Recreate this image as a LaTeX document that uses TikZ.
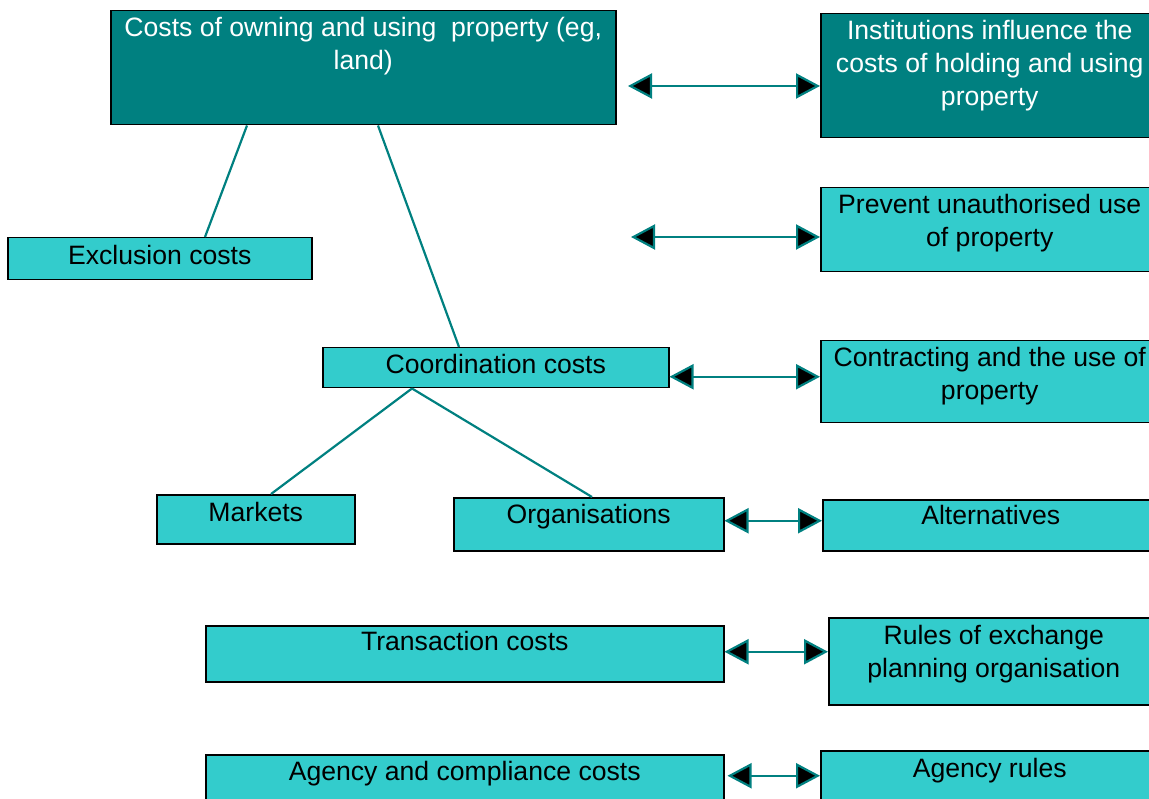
\documentclass[tikz,border=0pt]{standalone}
\usepackage{fontspec}
\setmainfont{Liberation Sans}
\usetikzlibrary{arrows.meta,calc}
\definecolor{darkteal}{HTML}{008080}
\definecolor{lightteal}{HTML}{33CCCC}
\begin{document}
\begin{tikzpicture}[x=1pt,y=-1pt,
 box/.style={draw=black, line width=1.5pt, rectangle, inner sep=0pt, anchor=north west},
 dark/.style={box, fill=darkteal},
 light/.style={box, fill=lightteal},
 txt/.style={anchor=north, inner sep=0pt, align=center, font=\fontsize{26.6}{33}\selectfont},
 wtxt/.style={txt, text=white},
 link/.style={draw=darkteal, line width=2.2pt},
 dbl/.style={draw=darkteal, line width=2.2pt, {Triangle[length=24pt,width=25pt,fill=black]}-{Triangle[length=24pt,width=25pt,fill=black]}}
]
\useasboundingbox (0,0) rectangle (1149,799);
\clip (0,0) rectangle (1149,799);

% boxes
\node[dark,  minimum width=505pt, minimum height=114pt] (top)   at (110,10)  {};
\node[dark,  minimum width=338pt, minimum height=124pt] (inst)  at (820,13)  {};
\node[light, minimum width=338pt, minimum height=84pt]  (prev)  at (820,187) {};
\node[light, minimum width=304pt, minimum height=42pt]  (excl)  at (7,237)   {};
\node[light, minimum width=346pt, minimum height=40pt]  (coord) at (322,347) {};
\node[light, minimum width=338pt, minimum height=82pt]  (contr) at (820,340) {};
\node[light, minimum width=198pt, minimum height=49pt]  (mark)  at (156,494) {};
\node[light, minimum width=270pt, minimum height=53pt]  (org)   at (453,497) {};
\node[light, minimum width=336pt, minimum height=51pt]  (alt)   at (822,499) {};
\node[light, minimum width=518pt, minimum height=56pt]  (trans) at (205,625) {};
\node[light, minimum width=330pt, minimum height=87pt]  (rules) at (828,617) {};
\node[light, minimum width=518pt, minimum height=60pt]  (agen)  at (205,754) {};
\node[light, minimum width=338pt, minimum height=60pt]  (arul)  at (820,750) {};

% texts
\node[wtxt] (topT)   at ([yshift=-7.5pt]top.north)   {Costs of owning and using~ property (eg,\\land)};
\node[wtxt] (instT)  at ([yshift=-7.5pt]inst.north)  {Institutions influence the\\costs of holding and using\\property};
\node[txt]  (prevT)  at ([yshift=-7.5pt]prev.north)  {Prevent unauthorised use\\of property};
\node[txt]  (exclT)  at ([yshift=-8pt]excl.north)    {Exclusion costs};
\node[txt]  (coordT) at ([yshift=-7.5pt]coord.north) {Coordination costs};
\node[txt]  (contrT) at ([yshift=-7.5pt]contr.north) {Contracting and the use of\\property};
\node[txt]  (markT)  at ([yshift=-8pt]mark.north)    {Markets};
\node[txt]  (orgT)   at ([yshift=-7.5pt]org.north)   {Organisations};
\node[txt]  (altT)   at ([yshift=-6.5pt]alt.north)   {Alternatives};
\node[txt]  (transT) at ([yshift=-6.5pt]trans.north) {Transaction costs};
\node[txt]  (rulesT) at ([yshift=-8pt]rules.north)   {Rules of exchange\\planning organisation};
\node[txt]  (agenT)  at ([yshift=-7.5pt]agen.north)  {Agency and compliance costs};
\node[txt]  (arulT)  at ([yshift=-8pt]arul.north)    {Agency rules};

% tree links
\draw[link] ($(top.south west)+(137,0)$) -- ($(excl.north west)+(198,0)$);
\draw[link] ($(top.south west)+(268,0)$) -- ($(coord.north west)+(137,0)$);
\draw[link] ($(coord.south west)+(90,0)$) -- ($(mark.north west)+(115,0)$);
\draw[link] ($(coord.south west)+(90,0)$) -- ($(org.north west)+(139,0)$);

% double arrows
\coordinate (a1) at (628,86);
\draw[dbl] (a1) -- (inst.west |- a1);
\coordinate (a2) at (631,237);
\draw[dbl] (a2) -- (prev.west |- a2);
\coordinate (a3) at ([yshift=-9pt]coord.east);
\draw[dbl] (a3) -- (contr.west |- a3);
\coordinate (a4) at ([yshift=3.5pt]org.east);
\draw[dbl] (a4) -- (alt.west |- a4);
\coordinate (a5) at ([yshift=2pt]trans.east);
\draw[dbl] (a5) -- (rules.west |- a5);
\coordinate (a6) at ([xshift=3pt,yshift=9pt]agen.east);
\draw[dbl] (a6) -- (arul.west |- a6);
\end{tikzpicture}
\end{document}
